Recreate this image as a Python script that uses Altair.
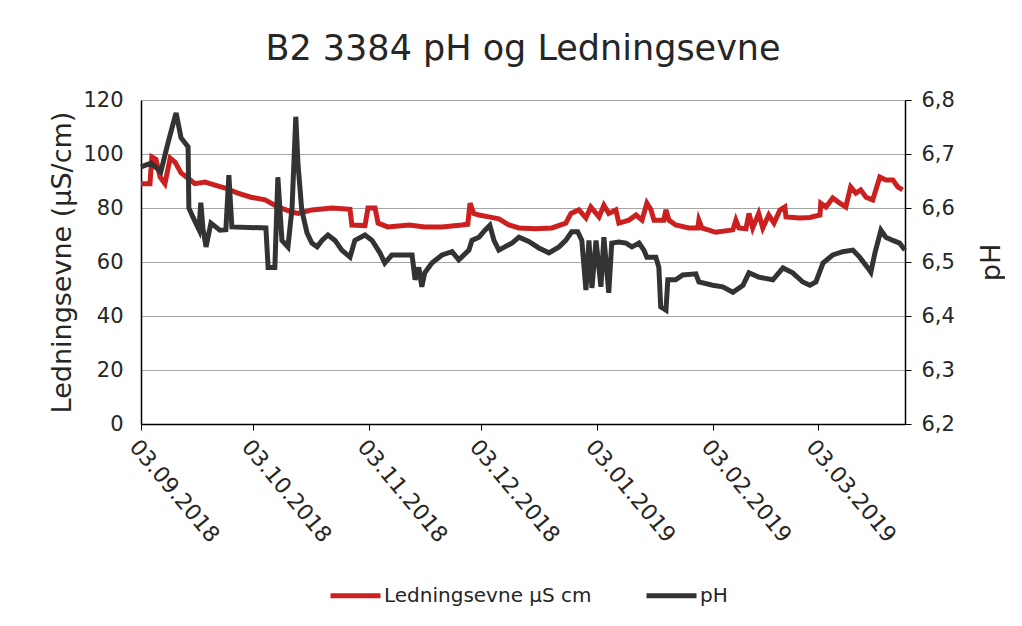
import altair as alt
import pandas as pd

start_date = "2018-09-03"
end_date = (2019, 3, 26, 8)

cond_name = "Ledningsevne µS cm"
ph_name = "pH"

# days after 03.09.2018 and conductivity values (µS/cm)
cond_days = [0, 2.4, 2.9, 4.0, 5.1, 6.4, 7.8, 9.1, 10.7, 12.6, 14.4, 17.1, 19.8, 22.5, 25.9,
             29.4, 33.2, 36.6, 40.4, 42.0, 45.7, 51.1, 55.9, 56.4, 59.9, 60.7, 62.6, 63.4, 66.0,
             71.7, 75.9, 80.5, 85.8, 87.4, 88.0, 89.0, 90.4, 93.0, 95.7, 98.4, 101.1, 105.6, 109.9,
             113.6, 115.0, 117.1, 119.0, 120.3, 122.5, 123.8, 125.1, 127.0, 127.8, 130.5, 132.4,
             134.0, 135.3, 136.4, 137.2, 139.8, 140.4, 141.2, 143.0, 146.5, 148.9, 149.2, 150.0,
             153.7, 158.3, 159.1, 159.9, 161.8, 162.6, 163.6, 165.2, 166.3, 167.9, 169.3, 170.9,
             172.2, 172.5, 176.2, 178.9, 181.6, 181.8, 183.2, 185.0, 186.9, 188.5, 189.8, 191.2,
             192.5, 193.9, 195.7, 197.6, 199.2, 201.1, 202.4, 203.7]
cond_vals = [89, 89, 98.9, 98, 91.5, 89, 98.5, 97, 93, 91, 89, 89.6, 88.5, 87.4, 85.5,
             84, 83, 80.4, 78.5, 78, 79.3, 80, 79.5, 73.7, 73.5, 80, 80, 74.4, 73,
             73.7, 73, 73, 73.7, 74, 81.8, 78, 77.4, 76.7, 76, 73.7, 72.6, 72.3, 72.6,
             74.4, 78, 79.3, 76.3, 80.4, 76.7, 81, 78, 79.3, 74.4, 75.5, 77.4,
             75.5, 81.8, 79.3, 75.5, 75.5, 79.3, 75.5, 73.7, 72.6, 72.6, 75.5, 72.6,
             71, 71.9, 75.5, 72.6, 72.3, 78, 72.6, 78, 72.6, 77.4, 74.4, 79.3,
             80.4, 76.7, 76.3, 76.5, 77.4, 81.8, 80.4, 83.7, 81.8, 80.4, 87.8, 85.5,
             86.7, 84, 83, 91.5, 90.4, 90.4, 87.8, 86.7]

# days after 03.09.2018 and pH values
ph_days = [0, 2.7, 5.3, 7.2, 9.1, 9.4, 10.7, 12.6, 12.8, 13.9, 15.5, 16.0, 16.6, 17.4, 18.7,
           21.1, 22.7, 23.5, 24.3, 33.4, 34.0, 35.8, 36.6, 37.7, 39.3, 40.4, 41.4, 42.0, 43.0,
           44.4, 45.7, 47.1, 48.4, 50.0, 51.9, 53.7, 55.9, 57.2, 59.9, 61.8, 63.9, 65.2, 67.1,
           72.5, 73.3, 74.3, 75.1, 75.9, 77.8, 80.5, 83.2, 85.0, 87.7, 88.5, 90.4, 92.0, 93.3,
           94.4, 95.7, 97.3, 99.2, 101.1, 103.7, 106.4, 109.1, 111.8, 113.6, 115.2, 116.8, 117.9,
           119.0, 119.8, 120.6, 121.7, 123.0, 123.8, 125.1, 125.9, 127.8, 129.7, 131.3, 133.2,
           134.5, 135.3, 137.7, 138.5, 139.0, 140.4, 140.9, 143.0, 144.9, 148.4, 149.2, 152.9,
           155.6, 158.3, 161.0, 162.6, 165.2, 169.0, 171.7, 174.3, 177.0, 178.9, 180.5, 182.4,
           185.0, 187.7, 190.4, 192.2, 194.4, 195.2, 196.3, 197.9, 199.2, 201.1, 202.9, 204.3]
ph_vals = [6.676, 6.683, 6.667, 6.72, 6.769, 6.776, 6.73, 6.713, 6.60, 6.583, 6.56, 6.61, 6.56,
           6.528, 6.572, 6.559, 6.56, 6.661, 6.565, 6.563, 6.49, 6.49, 6.657, 6.54, 6.528, 6.60,
           6.769, 6.68, 6.596, 6.554, 6.535, 6.528, 6.54, 6.55, 6.54, 6.522, 6.509, 6.54, 6.55,
           6.54, 6.517, 6.498, 6.513, 6.513, 6.467, 6.49, 6.454, 6.48, 6.498, 6.513, 6.519,
           6.504, 6.522, 6.54, 6.546, 6.559, 6.568, 6.54, 6.522, 6.528, 6.535, 6.546, 6.538,
           6.526, 6.517, 6.528, 6.54, 6.556, 6.556, 6.54, 6.448, 6.54, 6.452, 6.54, 6.454,
           6.546, 6.443, 6.535, 6.537, 6.535, 6.528, 6.535, 6.522, 6.509, 6.509, 6.49, 6.417,
           6.411, 6.467, 6.467, 6.476, 6.478, 6.463, 6.457, 6.454, 6.444, 6.457, 6.48, 6.472,
           6.467, 6.489, 6.48, 6.463, 6.457, 6.463, 6.498, 6.513, 6.519, 6.522, 6.509, 6.489,
           6.481, 6.517, 6.559, 6.546, 6.54, 6.535, 6.522]

tick_dates = ["2018-09-03", "2018-10-03", "2018-11-03", "2018-12-03",
              "2019-01-03", "2019-02-03", "2019-03-03"]
cond_ticks = [0, 20, 40, 60, 80, 100, 120]
ph_ticks = [6.2, 6.3, 6.4, 6.5, 6.6, 6.7, 6.8]

s0 = pd.Timestamp(start_date)
cond_df = pd.DataFrame({
    "date": [s0 + pd.Timedelta(days=d) for d in cond_days],
    "value": cond_vals,
    "series": cond_name,
})
ph_df = pd.DataFrame({
    "date": [s0 + pd.Timedelta(days=d) for d in ph_days],
    "value": ph_vals,
    "series": ph_name,
})

def dt(s):
    t = pd.Timestamp(s)
    return alt.DateTime(year=t.year, month=t.month, date=t.day)

FONT = "DejaVu Sans"
TXT = "#262626"

x_enc = alt.X(
    "date:T",
    scale=alt.Scale(domain=[dt(start_date),
                            alt.DateTime(year=end_date[0], month=end_date[1],
                                         date=end_date[2], hours=end_date[3])]),
    axis=alt.Axis(
        title=None, values=[dt(s) for s in tick_dates], format="%d.%m.%Y",
        labelAngle=50, labelAlign="left", labelBaseline="top", labelPadding=6,
        labelFontSize=22, labelFont=FONT, labelColor=TXT,
        domainColor="black", domainWidth=1.5, tickColor="black", tickSize=6,
        grid=False, labelOverlap=False,
    ),
)

color_enc = alt.Color(
    "series:N",
    scale=alt.Scale(domain=[cond_name, ph_name], range=["#cc1f1f", "#333333"]),
    legend=alt.Legend(
        title=None, orient="none", legendX=187, legendY=468, direction="horizontal",
        symbolType="stroke", symbolSize=2500, symbolStrokeWidth=5,
        labelFontSize=20, labelFont=FONT, labelColor=TXT, labelOffset=1,
        labelLimit=500, columnPadding=44,
    ),
)

cond_chart = alt.Chart(cond_df).mark_line(strokeWidth=5).encode(
    x=x_enc,
    y=alt.Y(
        "value:Q",
        scale=alt.Scale(domain=[0, 120]),
        axis=alt.Axis(
            title="Ledningsevne (µS/cm)", values=cond_ticks, grid=True,
            gridColor="#a6a6a6", gridWidth=1, ticks=False, labelPadding=18,
            labelFontSize=21, labelFont=FONT, labelColor=TXT,
            domainColor="black", domainWidth=1.5,
            titleFontSize=27, titleFont=FONT, titleColor=TXT, titleFontWeight="normal",
            titleAngle=-90, titleX=-79, titleY=162, titleAlign="center",
            titleBaseline="middle",
        ),
    ),
    color=color_enc,
)

ph_chart = alt.Chart(ph_df).mark_line(strokeWidth=5).encode(
    x=x_enc,
    y=alt.Y(
        "value:Q",
        scale=alt.Scale(domain=[6.2, 6.8]),
        axis=alt.Axis(
            orient="right", title="pH", values=ph_ticks, grid=False,
            labelExpr="replace(format(datum.value, '.1f'), '.', ',')",
            ticks=True, tickSize=6, tickColor="black", labelPadding=10,
            labelFontSize=21, labelFont=FONT, labelColor=TXT,
            domainColor="black", domainWidth=1.5,
            titleFontSize=27, titleFont=FONT, titleColor=TXT, titleFontWeight="normal",
            titleAngle=-90, titleX=86, titleY=162, titleAlign="center",
            titleBaseline="middle",
        ),
    ),
    color=color_enc,
)

chart = alt.layer(cond_chart, ph_chart).resolve_scale(y="independent").properties(
    width=764,
    height=324,
    title=alt.TitleParams(
        "B2 3384 pH og Ledningsevne", fontSize=35, font=FONT, color=TXT,
        fontWeight="normal", anchor="middle", baseline="alphabetic", offset=-6,
    ),
    autosize=alt.AutoSizeParams(type="none"),
    padding={"left": 133, "top": 92, "right": 100, "bottom": 190},
).configure_view(strokeWidth=0)

chart.save("out.html", embed_options={"renderer": "svg", "actions": False})
